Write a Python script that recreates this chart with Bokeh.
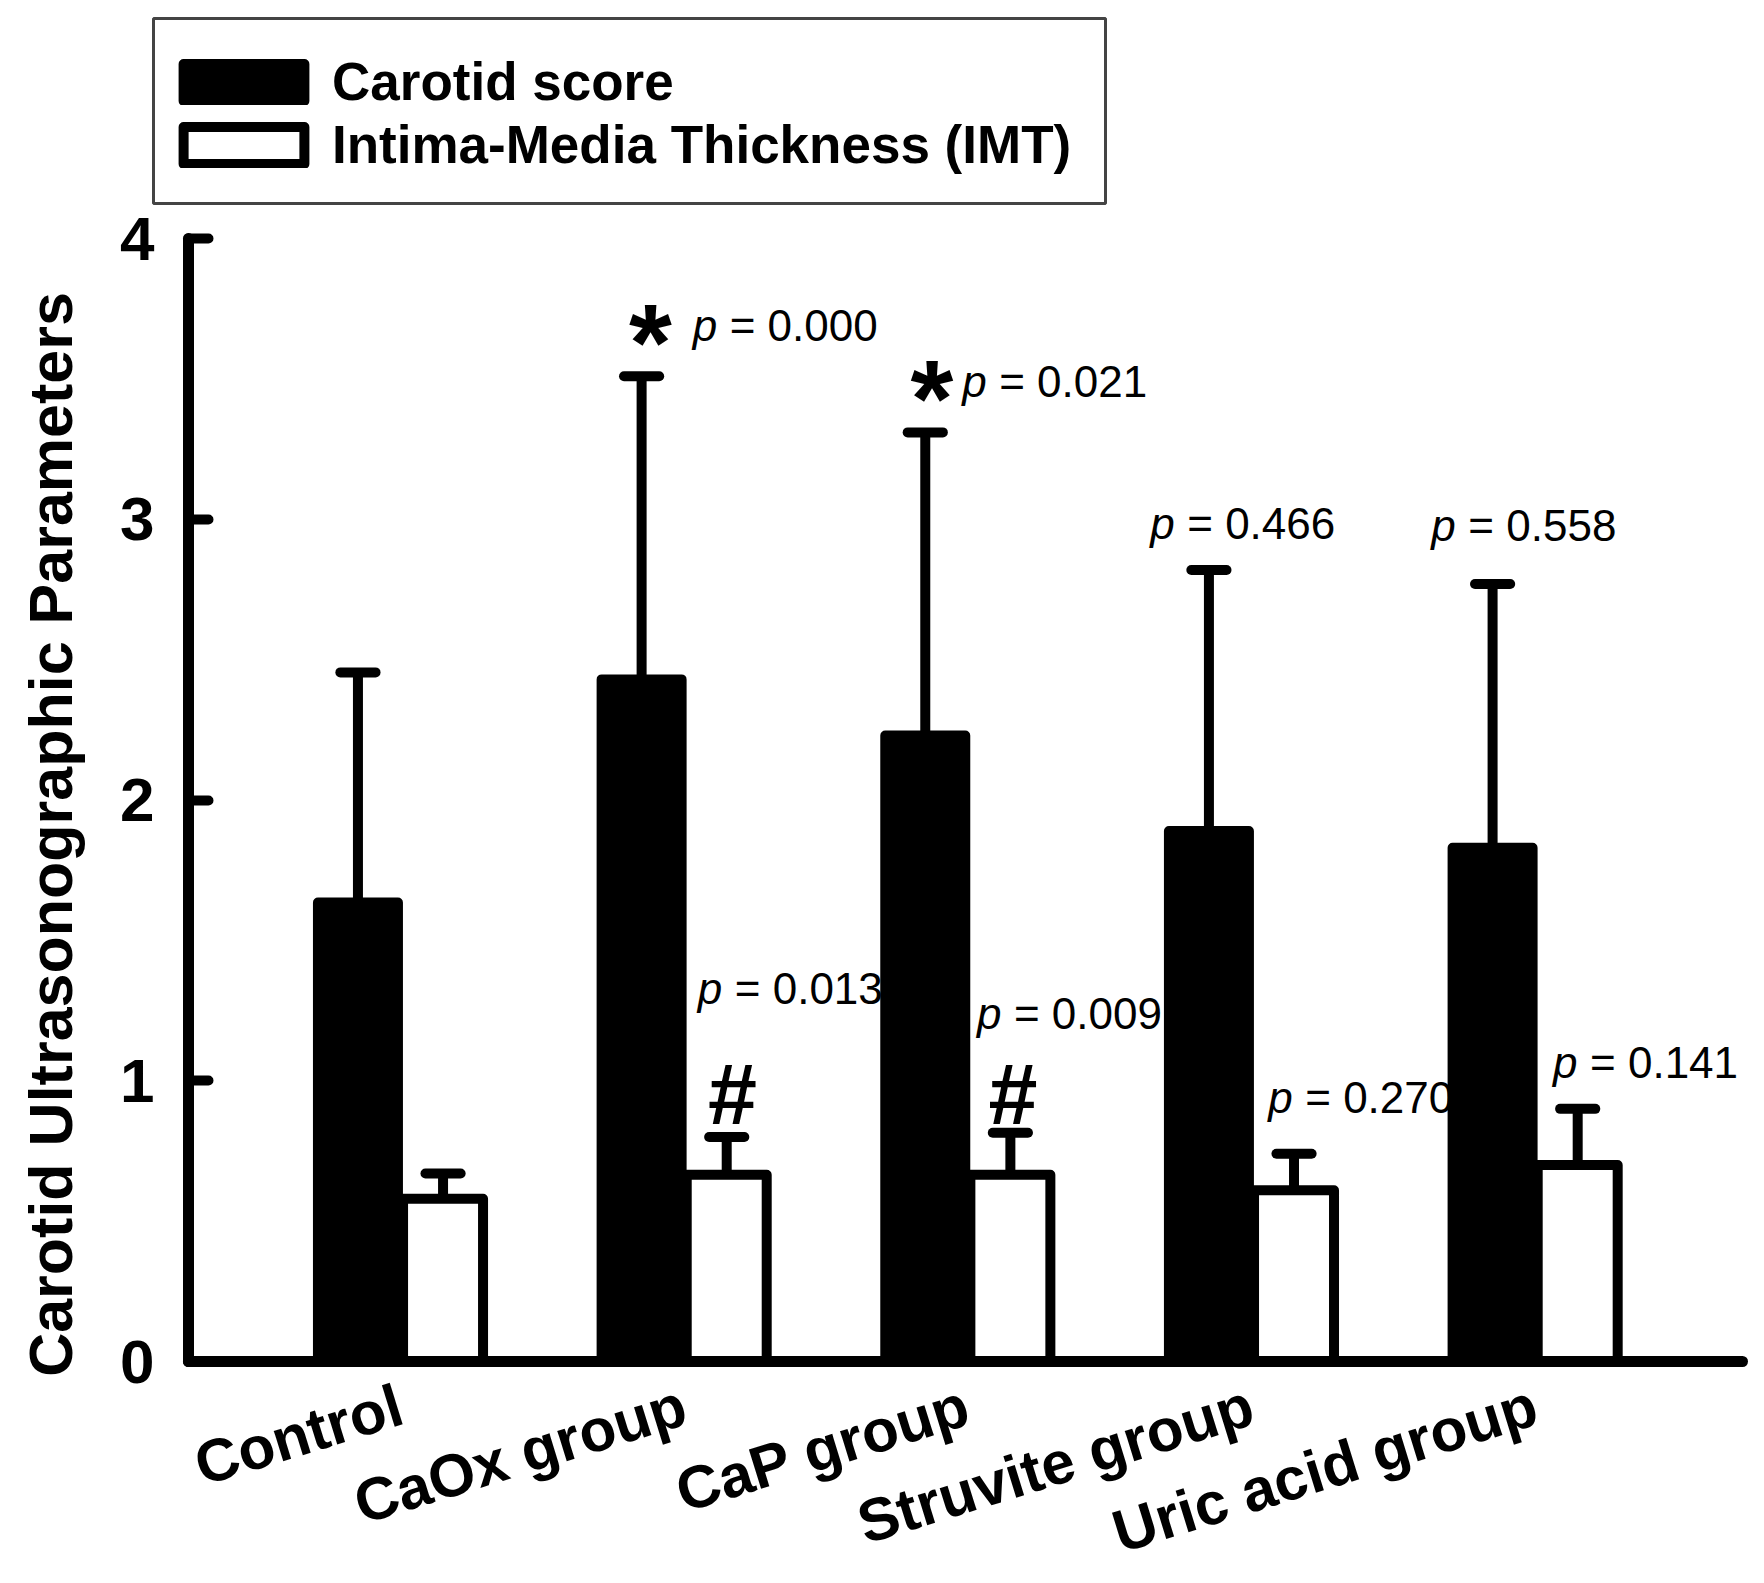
import math
from bokeh.plotting import figure
from bokeh.models import (Range1d, FixedTicker, Legend, LegendItem, Label, ColumnDataSource,
                          BoxAnnotation)
from bokeh.core.properties import value
from bokeh.embed import file_html
from bokeh.resources import INLINE

# ---------------- data ----------------
groups = ["Control", "CaOx group", "CaP group", "Struvite group", "Uric acid group"]
score_mean = [1.635, 2.43, 2.23, 1.89, 1.83]
score_sd = [0.82, 1.08, 1.08, 0.93, 0.94]
imt_mean = [0.58, 0.665, 0.665, 0.61, 0.70]
imt_sd = [0.09, 0.135, 0.15, 0.13, 0.20]
y_ticks = [0, 1, 2, 3, 4]

score_p = [None, "0.000", "0.021", "0.466", "0.558"]
score_sig = [None, "*", "*", None, None]
imt_p = [None, "0.013", "0.009", "0.270", "0.141"]
imt_sig = [None, "#", "#", None, None]

# annotation anchor positions (data units)
score_p_x = [None, 1.03, 1.98, 2.643, 3.634]
score_p_y = [None, 3.69, 3.49, 2.985, 2.977]
score_sig_x = [None, 0.881, 1.873, None, None]
imt_p_x = [None, 1.048, 2.032, 3.059, 4.063]
imt_p_y = [None, 1.329, 1.241, 0.94, 1.065]
imt_sig_x = [None, 1.170, 2.159, None, None]
imt_sig_y = 0.941

# ---------------- layout / styling ----------------
W, H = 1760, 1580
PX_X, PX_Y = 283.66, 280.7      # pixels per data unit
X0_PX, Y0_PX = 400, 1361        # screen position of group 0 / value 0
YAXIS_X = (188 - X0_PX) / PX_X
X_AXIS_END = 4.73
LEG_BOX = dict(left=153, right=1105, top=18, bottom=203)   # legend frame, pixels

FONT_NAME = "Liberation Sans"
FONT = value(FONT_NAME)
OFFSET = 0.15
BAR_W = 0.282
CAP_HALF = 0.062
LW = 10

n = len(groups)
xs = list(range(n))
xb = [i - OFFSET for i in xs]
xw = [i + OFFSET for i in xs]

p = figure(width=W, height=H,
           x_range=Range1d(-X0_PX / PX_X, (W - X0_PX) / PX_X),
           y_range=Range1d(-(H - Y0_PX) / PX_Y, Y0_PX / PX_Y),
           output_backend="svg", toolbar_location=None, min_border=0,
           background_fill_color="white", border_fill_color="white")
p.outline_line_color = None
p.grid.visible = False

# ---------------- annotation texts (drawn first, bars cover overlaps) ----------------
def add_p_labels(px, py, labels):
    idx = [i for i in range(n) if labels[i] is not None]
    src = ColumnDataSource(dict(x=[px[i] for i in idx], y=[py[i] for i in idx],
                                ptxt=["p" for _ in idx],
                                rest=["= " + labels[i] for i in idx]))
    p.text(x="x", y="y", text="ptxt", source=src, text_font=FONT, text_font_size="44px",
           text_font_style="italic", text_align="left", text_baseline="alphabetic",
           y_offset=0, text_color="black")
    p.text(x="x", y="y", text="rest", source=src, text_font=FONT, text_font_size="44px",
           text_align="left", text_baseline="alphabetic", x_offset=37, y_offset=0,
           text_color="black")

add_p_labels(score_p_x, score_p_y, score_p)
add_p_labels(imt_p_x, imt_p_y, imt_p)

sidx = [i for i in range(n) if score_sig[i]]
p.text(x=[score_sig_x[i] for i in sidx], y=[score_p_y[i] for i in sidx],
       text=[score_sig[i] for i in sidx], text_font=FONT, text_font_size="110px",
       text_font_style="bold", text_align="center", text_baseline="alphabetic",
       y_offset=16, text_color="black")
hidx = [i for i in range(n) if imt_sig[i]]
p.text(x=[imt_sig_x[i] for i in hidx], y=[imt_sig_y for _ in hidx],
       text=[imt_sig[i] for i in hidx], text_font=FONT, text_font_size="88px",
       text_font_style="bold", text_align="center", text_baseline="alphabetic",
       y_offset=-4, text_color="black")

# ---------------- bars ----------------
rb = p.vbar(x=xb, top=score_mean, bottom=0, width=BAR_W, fill_color="black",
            line_color="black", line_width=LW, line_join="round")
rw = p.vbar(x=xw, top=imt_mean, bottom=0, width=BAR_W, fill_color="white",
            line_color="black", line_width=LW, line_join="round")

# ---------------- error bars (upper only) ----------------
for xx, m, s in ((xb, score_mean, score_sd), (xw, imt_mean, imt_sd)):
    tops = [a + b for a, b in zip(m, s)]
    p.segment(x0=xx, y0=m, x1=xx, y1=tops, line_color="black", line_width=LW)
    p.segment(x0=[v - CAP_HALF for v in xx], y0=tops, x1=[v + CAP_HALF for v in xx],
              y1=tops, line_color="black", line_width=LW, line_cap="round")

# ---------------- axes ----------------
xa = p.xaxis[0]
xa.fixed_location = 0
xa.bounds = (YAXIS_X, X_AXIS_END)
xa.ticker = FixedTicker(ticks=xs)
xa.major_label_overrides = {i: g for i, g in enumerate(groups)}
xa.major_label_orientation = 0.30
xa.major_label_text_font = FONT_NAME
xa.major_label_text_font_size = "60px"
xa.major_label_text_font_style = "bold"
xa.major_label_text_color = "black"
xa.major_label_standoff = 36
xa.major_tick_line_color = None
xa.minor_tick_line_color = None
xa.axis_line_width = 11
xa.axis_line_cap = "round"
xa.axis_line_color = "black"

ya = p.yaxis[0]
ya.fixed_location = YAXIS_X
ya.ticker = FixedTicker(ticks=y_ticks)
ya.bounds = (0, 4)
ya.major_tick_in = 20
ya.major_tick_out = 0
ya.major_tick_line_width = 10
ya.major_tick_line_cap = "round"
ya.major_tick_line_color = "black"
ya.minor_tick_line_color = None
ya.major_label_text_font = FONT_NAME
ya.major_label_text_font_size = "62px"
ya.major_label_text_font_style = "bold"
ya.major_label_text_color = "black"
ya.major_label_standoff = 34
ya.axis_line_width = 11
ya.axis_line_cap = "round"
ya.axis_line_color = "black"

p.add_layout(Label(x=50, y=H - 834, x_units="screen", y_units="screen",
                   text="Carotid Ultrasonographic Parameters", angle=math.pi / 2,
                   text_align="center", text_baseline="middle", text_font=FONT_NAME,
                   text_font_size="61px", text_font_style="bold", text_color="black"))

# ---------------- legend ----------------
p.add_layout(BoxAnnotation(left=(LEG_BOX["left"] - X0_PX) / PX_X,
                           right=(LEG_BOX["right"] - X0_PX) / PX_X,
                           top=(Y0_PX - LEG_BOX["top"]) / PX_Y,
                           bottom=(Y0_PX - LEG_BOX["bottom"]) / PX_Y,
                           fill_color="white", fill_alpha=0.0,
                           line_color="#444444", line_width=3, line_alpha=1.0))

legend = Legend(items=[LegendItem(label="Carotid score", renderers=[rb]),
                       LegendItem(label="Intima-Media Thickness (IMT)", renderers=[rw])],
                location=(168, H - 175), orientation="vertical",
                glyph_width=151, glyph_height=46, label_standoff=13,
                spacing=2,
                label_text_font=FONT_NAME, label_text_font_size="53px",
                label_text_font_style="bold", label_text_color="black",
                padding=17, margin=0,
                border_line_color=None,
                background_fill_alpha=0.0)
p.add_layout(legend, "center")

open("out.html", "w").write(file_html(p, INLINE))
